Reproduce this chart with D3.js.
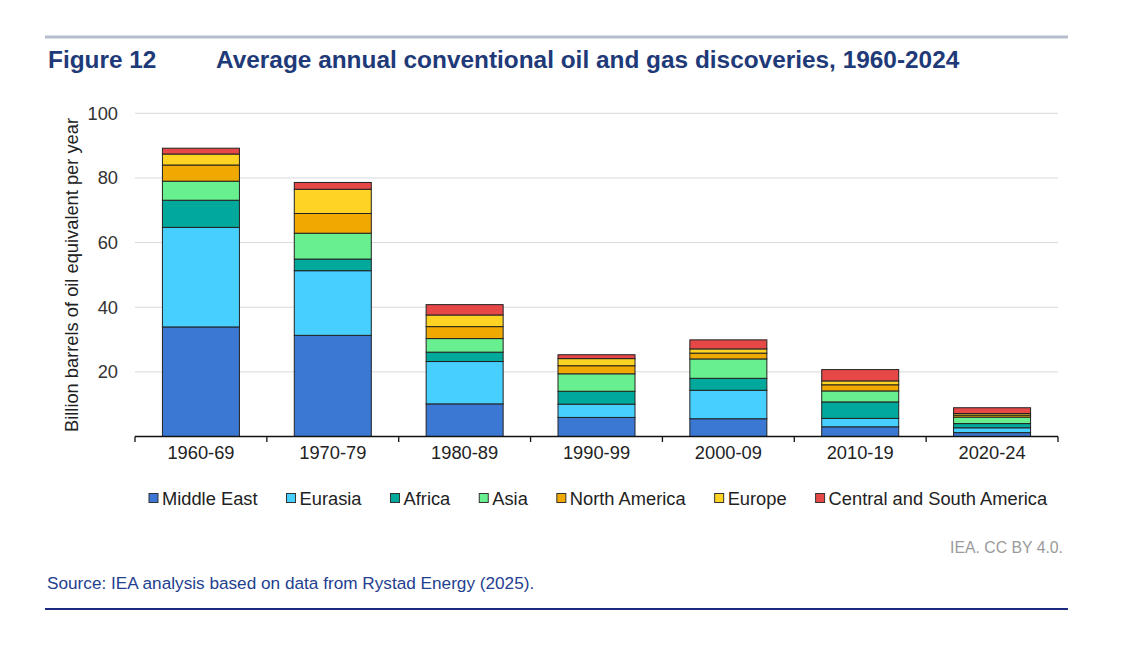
<!DOCTYPE html>
<html>
<head>
<meta charset="utf-8">
<script src="https://cdn.jsdelivr.net/npm/d3@7"></script>
<style>
  body { margin: 0; background: #fff; }
  text { font-family: "Liberation Sans", Arial, sans-serif; }
</style>
</head>
<body>
<script>
// data (billion boe per year)
var categories = ['1960-69', '1970-79', '1980-89', '1990-99', '2000-09', '2010-19', '2020-24'];
var regions = ['Middle East', 'Eurasia', 'Africa', 'Asia', 'North America', 'Europe', 'Central and South America'];
var middleEast   = [33.9, 31.3, 10.1, 5.9, 5.5, 3.0, 1.2];
var eurasia      = [30.8, 20.0, 13.1, 4.1, 8.8, 2.6, 1.5];
var africa       = [8.4, 3.6, 2.9, 4.0, 3.7, 5.1, 1.3];
var asia         = [5.9, 8.0, 4.2, 5.4, 6.0, 3.4, 2.0];
var northAmerica = [5.0, 6.1, 3.7, 2.5, 1.8, 1.9, 0.6];
var europe       = [3.4, 7.5, 3.6, 2.2, 1.3, 1.2, 0.5];
var csAmerica    = [1.8, 2.1, 3.2, 1.2, 2.8, 3.5, 1.8];
var yTicks = [20, 40, 60, 80, 100];

var colors = ['#3b78d3', '#47cfff', '#00a99b', '#68ef90', '#f0a900', '#ffd324', '#e64848'];
var series = [middleEast, eurasia, africa, asia, northAmerica, europe, csAmerica];

var width = 1141;
var height = 665;

var svg = d3.select('body').append('svg').attr('width', width).attr('height', height);

// build rows for the stack
var rows = categories.map(function(c, i){
  var row = {cat: c};
  regions.forEach(function(r, j){ row[r] = series[j][i]; });
  return row;
});
var stacked = d3.stack().keys(regions)(rows);

var x = d3.scaleBand().domain(categories).range([135, 1058]).paddingInner(0.416).paddingOuter(0.208);
var y = d3.scaleLinear().domain([0, 100]).range([436.5, 113.3]);

// header line + title
svg.append('line').attr('x1', 45).attr('x2', 1068).attr('y1', 37).attr('y2', 37)
  .attr('stroke', '#b5bdcc').attr('stroke-width', 3);
svg.append('text').attr('x', 48).attr('y', 68).text('Figure 12')
  .attr('font-size', 24.4).attr('font-weight', 'bold').attr('fill', '#1f3a78');
svg.append('text').attr('x', 216).attr('y', 68).text('Average annual conventional oil and gas discoveries, 1960-2024')
  .attr('font-size', 24.4).attr('font-weight', 'bold').attr('fill', '#1f3a78');

// gridlines
svg.append('g').selectAll('line').data(yTicks).enter().append('line')
  .attr('x1', 135).attr('x2', 1058)
  .attr('y1', function(d){ return y(d); })
  .attr('y2', function(d){ return y(d); })
  .attr('stroke', '#d9d9d9').attr('stroke-width', 1);

// y axis labels
var yAxis = d3.axisLeft(y).tickValues(yTicks).tickSize(0).tickPadding(0);
var yg = svg.append('g').attr('transform', 'translate(118,0)').call(yAxis);
yg.select('.domain').remove();
yg.selectAll('text').attr('font-size', 18.3).attr('fill', '#333').attr('font-family', '"Liberation Sans", Arial, sans-serif');

svg.append('text')
  .attr('transform', 'translate(78,275) rotate(-90)')
  .attr('text-anchor', 'middle')
  .attr('font-size', 18.3).attr('fill', '#222')
  .text('Billion barrels of oil equivalent per year');

// bars
var layers = svg.append('g').selectAll('g').data(stacked).enter().append('g')
  .attr('fill', function(d, i){ return colors[i]; });
layers.selectAll('rect').data(function(d){ return d; }).enter().append('rect')
  .attr('x', function(d){ return x(d.data.cat); })
  .attr('width', x.bandwidth())
  .attr('y', function(d){ return y(d[1]); })
  .attr('height', function(d){ return y(d[0]) - y(d[1]); })
  .attr('stroke', '#222').attr('stroke-width', 1);

// x axis
var xAxis = d3.axisBottom(x).tickSize(0).tickPadding(10);
var xg = svg.append('g').attr('transform', 'translate(0,436.5)').call(xAxis);
xg.select('.domain').remove();
xg.selectAll('text').attr('font-size', 18.3).attr('fill', '#222').attr('font-family', '"Liberation Sans", Arial, sans-serif');
svg.append('line').attr('x1', 135).attr('x2', 1058).attr('y1', 436.5).attr('y2', 436.5)
  .attr('stroke', '#111').attr('stroke-width', 1.3);
var edges = categories.map(function(c){ return x(c) - x.step() * x.paddingInner() / 2; });
edges.push(1058);
svg.append('g').selectAll('line').data(edges).enter().append('line')
  .attr('x1', function(d){ return d; }).attr('x2', function(d){ return d; })
  .attr('y1', 436.5).attr('y2', 442)
  .attr('stroke', '#111').attr('stroke-width', 1.3);

// legend
var legend = svg.append('g').attr('transform', 'translate(0,498)');
var lx = 149;
regions.forEach(function(r, i){
  legend.append('rect').attr('x', lx).attr('y', -4.5).attr('width', 9).attr('height', 9)
    .attr('fill', colors[i]).attr('stroke', '#333').attr('stroke-width', 1);
  var t = legend.append('text').attr('x', lx + 13).attr('y', 6.5).text(r)
    .attr('font-size', 18.3).attr('fill', '#222');
  lx = lx + 13 + t.node().getComputedTextLength() + 29;
});

// footer
svg.append('text').attr('x', 1063).attr('y', 553).attr('text-anchor', 'end')
  .attr('font-size', 15.8).attr('fill', '#9a9a9a').text('IEA. CC BY 4.0.');
svg.append('text').attr('x', 47).attr('y', 589)
  .attr('font-size', 17.2).attr('fill', '#23408f')
  .text('Source: IEA analysis based on data from Rystad Energy (2025).');
svg.append('line').attr('x1', 45).attr('x2', 1068).attr('y1', 609).attr('y2', 609)
  .attr('stroke', '#1c2b7d').attr('stroke-width', 2);
</script>
</body>
</html>
